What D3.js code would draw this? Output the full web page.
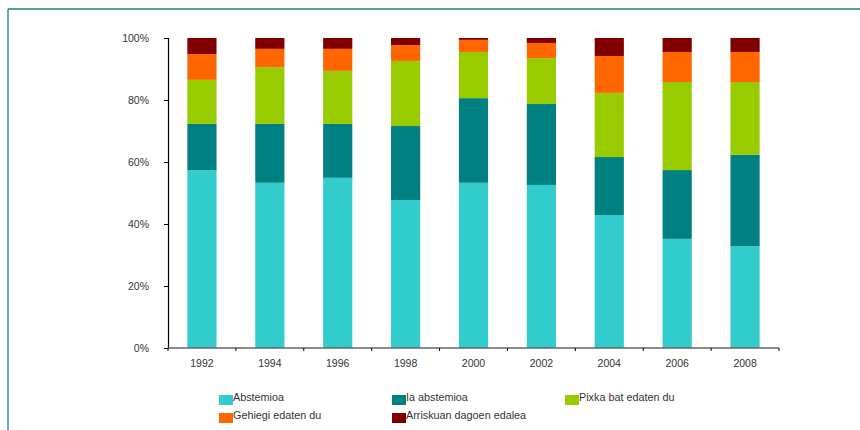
<!DOCTYPE html>
<html>
<head>
<meta charset="utf-8">
<script src="https://cdn.jsdelivr.net/npm/d3@7"></script>
<style>
  html, body { margin: 0; padding: 0; background: #fff; }
  svg { display: block; font-family: "Liberation Sans", Arial, sans-serif; }
</style>
</head>
<body>
<svg id="chart" width="860" height="430"></svg>
<script>
// Survey years
const years = ["1992", "1994", "1996", "1998", "2000", "2002", "2004", "2006", "2008"];

// Share of each drinking category per year (%)
const abstemioa   = [57.4, 53.3, 54.9, 47.7, 53.3, 52.6, 42.9, 35.2, 32.9];
const iaAbstemioa = [14.9, 19.0, 17.4, 23.9, 27.3, 26.1, 18.7, 22.2, 29.4];
const pixka       = [14.2, 18.3, 17.1, 21.0, 14.9, 14.8, 20.7, 28.4, 23.5];
const gehiegi     = [ 8.3,  5.9,  7.1,  5.1,  3.9,  4.9, 11.9,  9.7,  9.7];
const arriskuan   = [ 5.2,  3.5,  3.5,  2.3,  0.6,  1.6,  5.8,  4.5,  4.5];

const seriesNames = ["Abstemioa", "Ia abstemioa", "Pixka bat edaten du", "Gehiegi edaten du", "Arriskuan dagoen edalea"];
const seriesValues = [abstemioa, iaAbstemioa, pixka, gehiegi, arriskuan];
const colors = ["#33CCCC", "#008080", "#99CC00", "#FF6600", "#800000"];

const yTicks = [0, 20, 40, 60, 80, 100];

const svg = d3.select("#chart");

// Frame lines on top and left
svg.append("line").attr("x1", 8).attr("x2", 860).attr("y1", 9).attr("y2", 9)
  .attr("stroke", "#1a7f7f").attr("stroke-width", 1.3);
svg.append("line").attr("x1", 8).attr("x2", 8).attr("y1", 9).attr("y2", 430)
  .attr("stroke", "#1a7f7f").attr("stroke-width", 1.3);

const plotLeft = 168, plotRight = 779, plotTop = 38, plotBottom = 348;

const x = d3.scaleBand().domain(years).range([plotLeft, plotRight]).paddingInner(0.57).paddingOuter(0.285);
const y = d3.scaleLinear().domain([0, 100]).range([plotBottom, plotTop]);

// Stack the categories
const rows = years.map((yr, i) => {
  const r = { year: yr };
  seriesNames.forEach((n, k) => { r[n] = seriesValues[k][i]; });
  return r;
});
const stacked = d3.stack().keys(seriesNames)(rows);

svg.append("g").selectAll("g")
  .data(stacked)
  .join("g")
  .attr("fill", (d, i) => colors[i])
  .selectAll("rect")
  .data(d => d)
  .join("rect")
  .attr("x", d => x(d.data.year))
  .attr("width", x.bandwidth())
  .attr("y", d => y(d[1]))
  .attr("height", d => y(d[0]) - y(d[1]));

// Y axis
const yAxis = svg.append("g")
  .attr("transform", `translate(${plotLeft},0)`)
  .call(d3.axisLeft(y).tickValues(yTicks).tickFormat(d => d + "%").tickSize(4).tickPadding(15));
yAxis.select(".domain").attr("stroke", "#000").attr("stroke-width", 1.2);
yAxis.selectAll(".tick line").attr("stroke", "#000");
yAxis.selectAll("text").attr("font-size", 10.5).attr("fill", "#333")
  .attr("font-family", "'Liberation Sans', Arial, sans-serif");

// X axis with ticks at band boundaries
const step = x.step();
const boundaries = years.map((yr, i) => plotLeft + i * step).concat([plotRight]);
const xAxisG = svg.append("g");
xAxisG.append("line").attr("x1", plotLeft).attr("x2", plotRight).attr("y1", plotBottom).attr("y2", plotBottom)
  .attr("stroke", "#666").attr("stroke-width", 1.5);
xAxisG.selectAll("line.tk").data(boundaries).join("line").attr("class", "tk")
  .attr("x1", d => d).attr("x2", d => d).attr("y1", plotBottom).attr("y2", plotBottom + 3)
  .attr("stroke", "#000");
xAxisG.selectAll("text").data(years).join("text")
  .attr("x", d => x(d) + x.bandwidth() / 2)
  .attr("y", plotBottom + 19)
  .attr("text-anchor", "middle")
  .attr("font-size", 10.5).attr("fill", "#333")
  .text(d => d);

// Legend
const legendPos = [
  { x: 219, y: 395 }, { x: 392, y: 395 }, { x: 565, y: 395 },
  { x: 219, y: 413 }, { x: 392, y: 413 }
];
const legend = svg.append("g").selectAll("g").data(seriesNames).join("g")
  .attr("transform", (d, i) => `translate(${legendPos[i].x},${legendPos[i].y})`);
legend.append("rect").attr("width", 14).attr("height", 10).attr("fill", (d, i) => colors[i]);
legend.append("text").attr("x", 14).attr("y", 6).attr("font-size", 10.8).attr("fill", "#333")
  .text(d => d);
</script>
</body>
</html>
